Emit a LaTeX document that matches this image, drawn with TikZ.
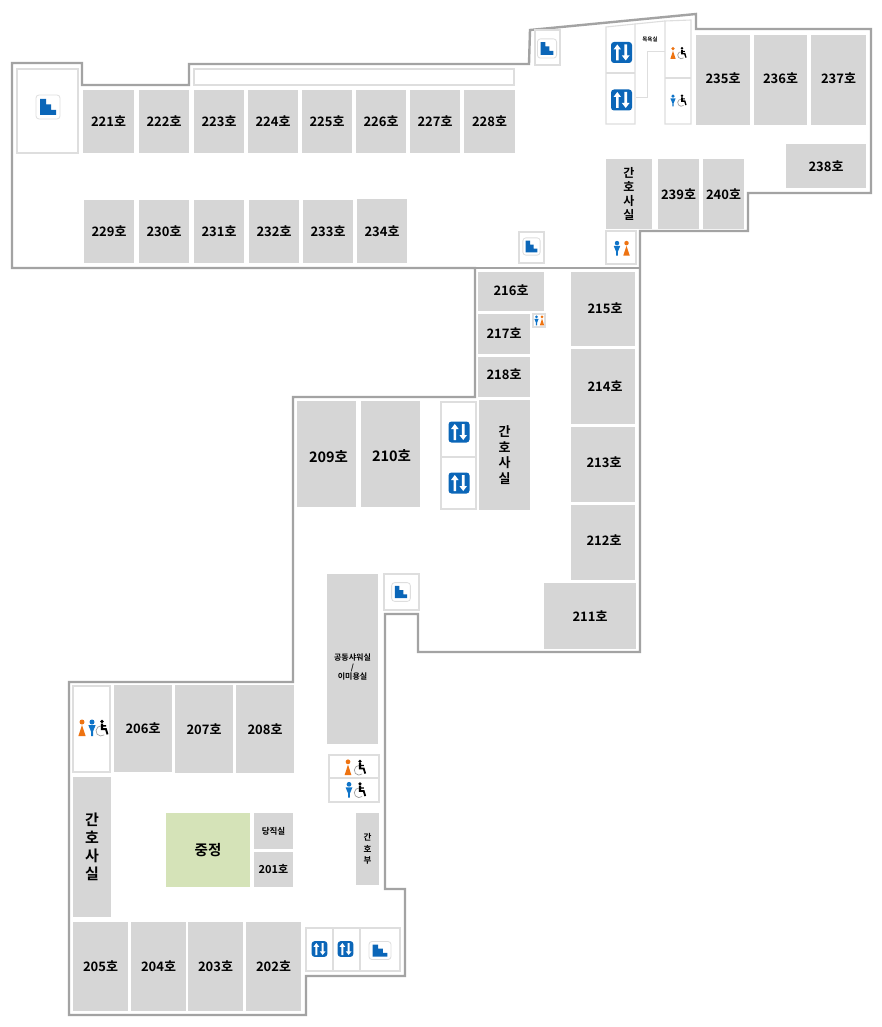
\documentclass[tikz,border=0pt]{standalone}
\usepackage{fontspec}
\setmainfont{Noto Sans CJK KR}[BoldFont={Noto Sans CJK KR Bold}]
\definecolor{roomgray}{HTML}{D6D6D6}
\definecolor{wallgray}{HTML}{A3A3A3}
\definecolor{boxline}{HTML}{DEDEDE}
\definecolor{courtgreen}{HTML}{D5E3B8}
\definecolor{iconblue}{HTML}{0B66B8}
\definecolor{manblue}{HTML}{0F74C8}
\definecolor{womanorange}{HTML}{EE7311}
\tikzset{
  wall/.style={draw=wallgray,line width=2.4pt,line join=miter},
  cell/.style={draw=boxline,line width=1.1pt,fill=white},
  cellline/.style={draw=boxline,line width=1.1pt},
  thinline/.style={draw=boxline,line width=1pt},
  room/.style={fill=roomgray,draw=none,inner sep=0pt,align=center,font=\bfseries\fontsize{13}{16}\selectfont},
  bigroom/.style={room,font=\bfseries\fontsize{14.5}{18}\selectfont},
  stafftall/.style={room,font=\bfseries\fontsize{12}{14.2}\selectfont},
  smallroom/.style={room,font=\bfseries\fontsize{8.5}{11}\selectfont},
  tinyroom/.style={room,font=\bfseries\fontsize{8}{9.6}\selectfont},
  stairs/.pic={
    \path[draw=boxline,fill=white,line width=.8pt,rounded corners=3pt] (-12,-12) rectangle (12,12);
    \fill[iconblue] (-8,-8) -- (-2,-8) -- (-2,-2.5) -- (3,-2.5) -- (3,3) -- (8,3) -- (8,8) -- (-8,8) -- cycle;
  },
  lift/.pic={
    \fill[iconblue,rounded corners=3pt] (-10.5,-10.5) rectangle (10.5,10.5);
    \fill[white] (-4.2,-8) -- (-0.4,-3) -- (-2.9,-3) -- (-2.9,8) -- (-5.5,8) -- (-5.5,-3) -- (-8,-3) -- cycle;
    \fill[white] (4.2,8) -- (0.4,3) -- (2.9,3) -- (2.9,-8) -- (5.5,-8) -- (5.5,3) -- (8,3) -- cycle;
  },
  woman/.pic={
    \fill[womanorange] (0,-6) circle (2.5);
    \fill[womanorange] (0,-3) -- (3.6,8) -- (-3.6,8) -- cycle;
  },
  man/.pic={
    \fill[manblue] (0,-6) circle (2.5);
    \fill[manblue] (-3.6,-2.8) -- (3.6,-2.8) -- (1,3.5) -- (1,8) -- (-1,8) -- (-1,3.5) -- cycle;
  },
  wheel/.pic={
    \draw[gray!75,line width=.7pt] (-1,3) ++(50:5) arc (50:290:5);
    \fill[black] (0,-6.5) circle (1.9);
    \fill[black] (-1.2,-4.5) -- (1.2,-4.5) -- (1.2,-2.8) -- (4,-2.8) -- (4,-1.4) -- (1.2,-1.4) -- (1.2,0) -- (4.6,0) -- (6.4,6.2) -- (4.6,6.6) -- (3.2,2) -- (-1.2,2) -- cycle;
  },
}
\def\rdx{0}\def\rdy{0}
\newcommand{\nudge}[2]{\gdef\rdx{#1}\gdef\rdy{#2}}
\newcommand{\roomat}[7][room]{% style, name, x1,y1,x2,y2, text
  \pgfmathsetmacro{\rw}{#5-#3}\pgfmathsetmacro{\rh}{#6-#4}
  \pgfmathsetmacro{\cx}{(#3+#5)/2}\pgfmathsetmacro{\cy}{(#4+#6)/2}
  \node[#1,minimum width=\rw pt,minimum height=\rh pt] (#2) at (\cx,\cy) {};
  \node[#1,fill=none] (#2-t) at (\cx+\rdx,\cy+\rdy) {#7};
  \gdef\rdx{0}\gdef\rdy{0}
}
\begin{document}
\begin{tikzpicture}[x=1pt,y=-1pt]
\useasboundingbox[fill=white] (0,0) rectangle (881,1027);
% outline
\draw[wall] (12,63) -- (82,63) -- (82,85) -- (189,85) -- (189,64) -- (529,64) -- (530,30) -- (696,14) -- (696,29) -- (871,29) -- (871,193) -- (748,193) -- (748,231) -- (640,231) -- (640,652) -- (418,652) -- (418,614) -- (385,614) -- (385,889) -- (405,889) -- (405,976) -- (306,976) -- (306,1015) -- (69,1015) -- (69,682) -- (293,682) -- (293,397) -- (475,397) -- (475,268) -- (12,268) -- cycle;
\draw[wall] (475,268) -- (640,268);
% white cells
\draw[cell] (17,69) rectangle (78,153);
\draw[cell] (194,69) rectangle (514,85);
\draw[cell] (535,30) rectangle (560,65);
\draw[cell] (606,27) -- (635,24) -- (635,124) -- (606,124) -- cycle;
\draw[cellline] (606,73) -- (635,73);
\draw[cellline] (635,24) -- (665,21);
\draw[thinline] (636,98) -- (647,98) -- (647,52) -- (665,52);
\draw[cell] (665,21) -- (691,20) -- (691,124) -- (665,124) -- cycle;
\draw[cellline] (665,78) -- (691,78);
\draw[cell] (519,232) rectangle (544,263);
\draw[cell] (606,231) rectangle (636,264);
\draw[cell] (533,314) rectangle (545,327);
\draw[cell] (441,402) rectangle (476,509);
\draw[cellline] (441,457) -- (476,457);
\draw[cell] (384,574) rectangle (419,610);
\draw[cell] (73,686) rectangle (110,772);
\draw[cell] (329,755) rectangle (379,802);
\draw[cellline] (329,778) -- (379,778);
\draw[cell] (306,928) rectangle (400,971);
\draw[cellline] (333,928) -- (333,971);
\draw[cellline] (360,928) -- (360,971);
% rooms
\roomat{r221}{83}{90}{134}{153}{221호}
\roomat{r222}{139}{90}{189}{153}{222호}
\roomat{r223}{194}{90}{244}{153}{223호}
\roomat{r224}{248}{90}{298}{153}{224호}
\roomat{r225}{302}{90}{352}{153}{225호}
\roomat{r226}{356}{90}{406}{153}{226호}
\roomat{r227}{410}{90}{460}{153}{227호}
\roomat{r228}{464}{90}{515}{153}{228호}
\roomat{r229}{84}{200}{134}{263}{229호}
\roomat{r230}{139}{200}{189}{263}{230호}
\roomat{r231}{194}{200}{244}{263}{231호}
\roomat{r232}{249}{200}{299}{263}{232호}
\roomat{r233}{303}{200}{353}{263}{233호}
\roomat{r234}{357}{199}{407}{263}{234호}
\nudge{0}{-2}\roomat{r235}{696}{35}{750}{125}{235호}
\nudge{0}{-2}\roomat{r236}{754}{35}{807}{125}{236호}
\nudge{0}{-2}\roomat{r237}{811}{35}{866}{125}{237호}
\roomat{r238}{786}{144}{866}{188}{238호}
\roomat{r239}{658}{159}{699}{229}{239호}
\roomat{r240}{703}{159}{744}{229}{240호}
\roomat[stafftall]{nurseA}{606}{159}{652}{229}{간\\호\\사\\실}
\nudge{0}{-1}\roomat{r216}{478}{272}{544}{311}{216호}
\nudge{0}{-1}\roomat{r217}{478}{314}{530}{354}{217호}
\nudge{0}{-3}\roomat{r218}{478}{357}{530}{397}{218호}
\nudge{2}{-1}\roomat{r215}{571}{272}{635}{346}{215호}
\nudge{2}{0}\roomat{r214}{571}{349}{635}{424}{214호}
\nudge{1}{-2}\roomat{r213}{571}{427}{635}{502}{213호}
\nudge{1}{-2}\roomat{r212}{571}{505}{635}{580}{212호}
\roomat{r211}{544}{583}{636}{649}{211호}
\nudge{2}{3}\roomat[bigroom]{r209}{297}{401}{356}{507}{209호}
\nudge{1}{2}\roomat[bigroom]{r210}{361}{401}{420}{507}{210호}
\roomat[stafftall,font=\bfseries\fontsize{13}{15.5}\selectfont]{nurseB}{479}{400}{530}{510}{간\\호\\사\\실}
\nudge{0}{8}\roomat[tinyroom]{shower}{327}{574}{378}{744}{공동샤워실\\/\\이미용실}
\roomat{r206}{114}{685}{172}{772}{206호}
\roomat{r207}{175}{685}{233}{773}{207호}
\roomat{r208}{236}{685}{294}{773}{208호}
\roomat[bigroom,font=\bfseries\fontsize{15}{17.8}\selectfont]{nurseC}{73}{777}{111}{917}{간\\호\\사\\실}
\roomat[bigroom,fill=courtgreen]{court}{166}{813}{250}{887}{중정}
\roomat[smallroom]{duty}{254}{813}{293}{849}{당직실}
\roomat[smallroom,font=\bfseries\fontsize{11}{13}\selectfont]{r201}{254}{852}{293}{887}{201호}
\roomat[smallroom,font=\bfseries\fontsize{8.5}{11.5}\selectfont]{nurseD}{356}{813}{379}{885}{간\\호\\부}
\roomat{r205}{73}{922}{128}{1011}{205호}
\roomat{r204}{131}{922}{186}{1011}{204호}
\roomat{r203}{188}{922}{243}{1011}{203호}
\roomat{r202}{246}{922}{301}{1011}{202호}
\node[font=\bfseries\fontsize{5.5}{6}\selectfont,inner sep=0pt] (bath) at (650,39.5) {목욕실};
% stairs icons
\pic at (48,107) {stairs};
\pic[scale=.8] at (547,48.5) {stairs};
\pic[scale=.72] at (531.5,246.5) {stairs};
\pic[scale=.78] at (401,592) {stairs};
\pic[xscale=.92,yscale=.75] at (380,950.5) {stairs};
% lift icons
\pic at (621.5,52.5) {lift};
\pic at (621.5,100) {lift};
\pic at (459,432) {lift};
\pic at (459,483) {lift};
\pic[scale=.75] at (319.5,949) {lift};
\pic[scale=.75] at (345.5,949) {lift};
% people icons
\pic[scale=.72] at (673,53) {woman};
\pic[scale=.72] at (682,53) {wheel};
\pic[scale=.72] at (673,100.5) {man};
\pic[scale=.72] at (682,100.5) {wheel};
\pic[scale=.9] at (617,248.5) {man};
\pic[scale=.9] at (626.5,248.5) {woman};
\pic[scale=.6] at (536.5,320.5) {man};
\pic[scale=.6] at (542,320.5) {woman};
\pic at (82,728) {woman};
\pic at (92,728) {man};
\pic at (102,728) {wheel};
\pic[scale=.95] at (348,767.5) {woman};
\pic[scale=.95] at (360,767.5) {wheel};
\pic[scale=.95] at (349,790) {man};
\pic[scale=.95] at (360,790) {wheel};
\end{tikzpicture}
\end{document}
